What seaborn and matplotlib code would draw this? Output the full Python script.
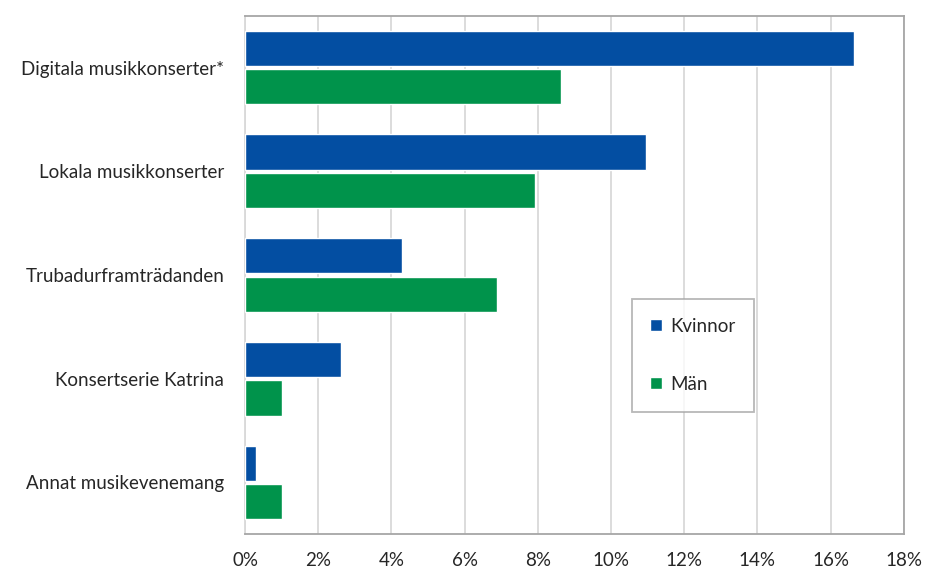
import pandas as pd
import matplotlib.pyplot as plt
import seaborn as sns
from matplotlib.ticker import PercentFormatter

# Andel (%) per evenemang och kön
kategorier = ["Digitala musikkonserter*", "Lokala musikkonserter", "Trubadurframträdanden",
              "Konsertserie Katrina", "Annat musikevenemang"]
kvinnor = [16.63, 10.95, 4.29, 2.62, 0.29]
man = [8.62, 7.92, 6.88, 1.0, 1.0]

df = pd.DataFrame({
    "Evenemang": kategorier * 2,
    "Andel": kvinnor + man,
    "Kön": ["Kvinnor"] * len(kategorier) + ["Män"] * len(kategorier),
})

sns.set_style("white")
plt.rcParams['font.family'] = ['Lato', 'DejaVu Sans']

fig, ax = plt.subplots(figsize=(9.25, 5.72), dpi=100)
fig.subplots_adjust(left=0.265, right=0.977, top=0.9725, bottom=0.066)

farger = {"Kvinnor": "#034EA2", "Män": "#00934B"}
sns.barplot(data=df, y="Evenemang", x="Andel", hue="Kön", palette=farger,
            orient="h", width=0.74, gap=0.08, saturation=1, ax=ax, zorder=3)

ax.set_xlim(0, 18)
ax.set_xticks(range(0, 19, 2))
ax.xaxis.set_major_formatter(PercentFormatter(decimals=0))
ax.grid(axis="x", color="#D9D9D9", linewidth=1.3, zorder=0)
ax.set_axisbelow(True)
ax.set_xlabel("")
ax.set_ylabel("")
ax.tick_params(axis="x", labelsize=13.5, pad=13, length=0)
ax.tick_params(axis="y", labelsize=13.5, pad=15, length=0)

for side in ["top", "right", "bottom"]:
    ax.spines[side].set_color("#A6A6A6")
    ax.spines[side].set_linewidth(1.3)
ax.spines["left"].set_color("#D9D9D9")
ax.spines["left"].set_linewidth(1.3)

leg = ax.legend(title=None, loc="upper left", bbox_to_anchor=(0.587, 0.454),
                borderaxespad=0, fontsize=13.5, handlelength=0.6, handleheight=0.6,
                handletextpad=0.45, labelspacing=2.2, borderpad=1.0,
                fancybox=False, frameon=True)
leg.get_frame().set_edgecolor("#A6A6A6")
leg.get_frame().set_linewidth(1.3)

plt.savefig("out.png", dpi=100)
